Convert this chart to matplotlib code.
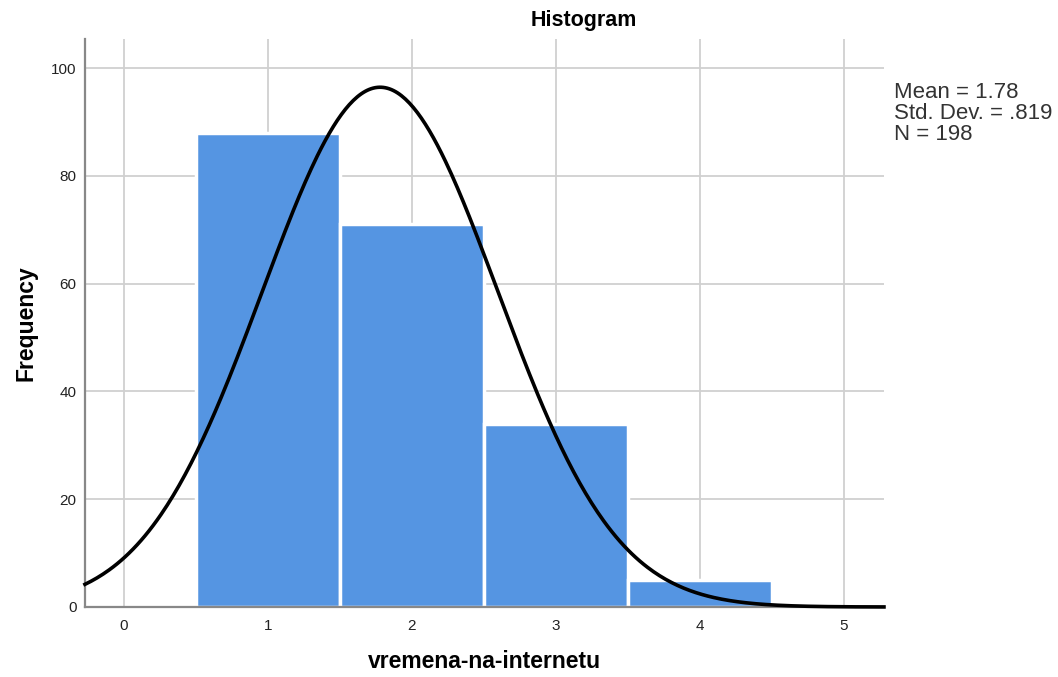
import numpy as np
import matplotlib
matplotlib.use('Agg')
import matplotlib.pyplot as plt

# histogram bins (centres) and counts
bin_centers = [1, 2, 3, 4]
counts = [88, 71, 34, 5]
mean = 1.78
std = 0.819
n = 198

plt.rcParams['font.family'] = ['Liberation Sans', 'DejaVu Sans']

fig = plt.figure(figsize=(10.58, 6.77), dpi=100)
ax = fig.add_axes([0.0803, 0.1034, 0.7552, 0.8390])

ax.set_axisbelow(True)
ax.grid(True, color='#d0d0d0', linewidth=1.3)

ax.bar(bin_centers, counts, width=1.0, color='#5595e2',
       edgecolor='white', linewidth=2.5, zorder=2)

# normal curve scaled to the counts (bin width 1)
xs = np.linspace(-0.27, 5.28, 400)
ys = n * np.exp(-0.5 * ((xs - mean) / std) ** 2) / (std * np.sqrt(2 * np.pi))
ax.plot(xs, ys, color='black', linewidth=2.6, zorder=3, clip_on=False)

ax.set_xlim(-0.27, 5.28)
ax.set_ylim(0, 105.4)
ax.set_xticks([0, 1, 2, 3, 4, 5])
ax.set_yticks([0, 20, 40, 60, 80, 100])
ax.tick_params(length=0, labelsize=11, colors='#222222')
ax.tick_params(axis='x', pad=9)
ax.tick_params(axis='y', pad=6)

for s in ['top', 'right']:
    ax.spines[s].set_visible(False)
for s in ['left', 'bottom']:
    ax.spines[s].set_color('#888888')
    ax.spines[s].set_linewidth(1.6)

ax.set_xlabel('vremena-na-internetu', fontsize=16.5, fontweight='bold', labelpad=12)
ax.set_ylabel('Frequency', fontsize=16.5, fontweight='bold', labelpad=10)

fig.text(0.552, 0.969, 'Histogram', ha='center', va='center',
         fontsize=15.5, fontweight='bold')

fig.text(0.845, 0.833, f"Mean = {mean:.2f}\nStd. Dev. = .819\nN = {n}",
         ha='left', va='center', fontsize=16, color='#333333',
         linespacing=1.0)

fig.savefig('out.png', dpi=100)
plt.close()
